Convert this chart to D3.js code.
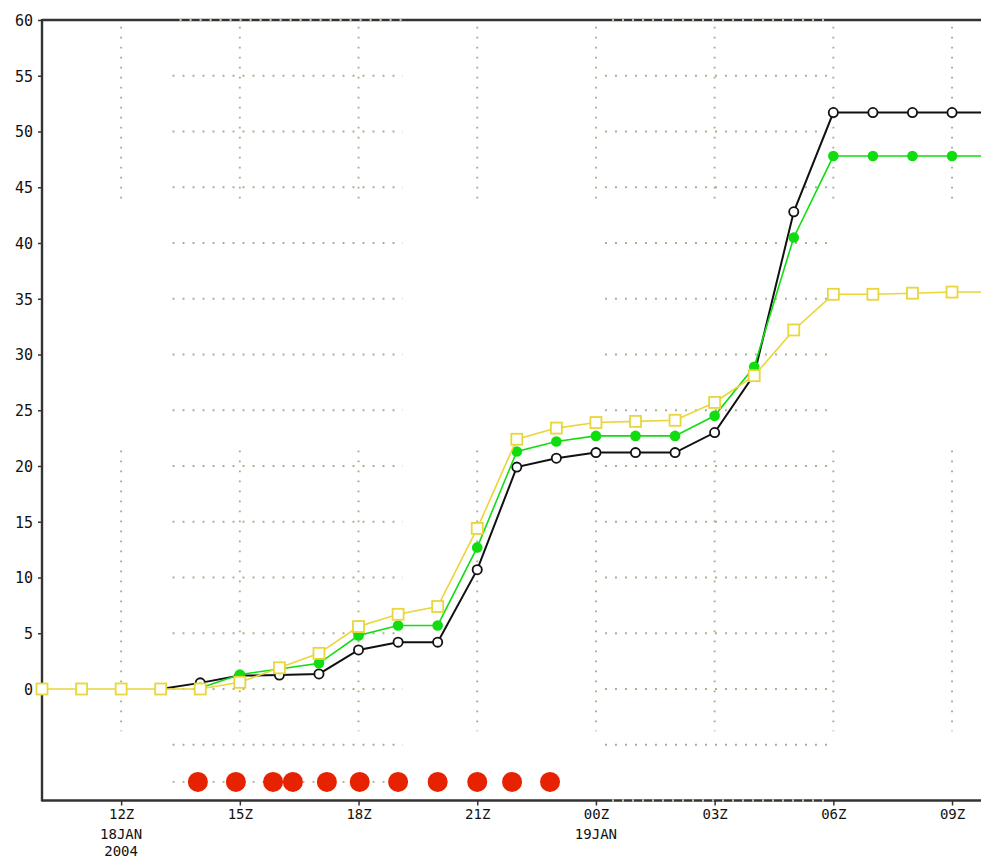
<!DOCTYPE html>
<html>
<head>
<meta charset="utf-8">
<script src="https://cdn.jsdelivr.net/npm/d3@7"></script>
<style>
  html, body { margin: 0; padding: 0; background: #fff; }
  svg { display: block; }
  .tick text { font-family: "DejaVu Sans Mono", monospace; font-size: 15px; fill: #111; }
  .xaxis .tick text { font-size: 14px; }
</style>
</head>
<body>
<svg id="chart" width="981" height="859"></svg>
<script>
// Hour of the run (10 = 10Z 18 Jan, 24 = 00Z 19 Jan, 34 = 10Z 19 Jan)
const hours = [10, 11, 12, 13, 14, 15, 16, 17, 18, 19, 20, 21, 22, 23, 24, 25, 26, 27, 28, 29, 30, 31, 32, 33, 34];

// Accumulated totals per hour (null = not yet started)
const blackSeries = [null, null, null, 0, 0.55, 1.2, 1.25, 1.35, 3.5, 4.2, 4.2, 10.7, 19.9, 20.7, 21.2, 21.2, 21.2, 23.0, 28.2, 42.8, 51.7, 51.7, 51.7, 51.7, 51.7];
const greenSeries = [null, null, null, null, 0.1, 1.3, 1.8, 2.3, 4.8, 5.7, 5.7, 12.7, 21.3, 22.2, 22.7, 22.7, 22.7, 24.5, 28.9, 40.5, 47.8, 47.8, 47.8, 47.8, 47.8];
const yellowSeries = [0, 0, 0, 0, 0, 0.6, 1.9, 3.2, 5.6, 6.7, 7.4, 14.4, 22.4, 23.4, 23.9, 24.0, 24.1, 25.7, 28.1, 32.2, 35.4, 35.4, 35.5, 35.6, 35.6];

// Observation times marked along the bottom strip
const obsTimes = [13.94, 14.9, 15.84, 16.34, 17.2, 18.03, 19.0, 20.0, 21.0, 21.88, 22.84];
const obsLevel = -8.33;

// Axis ticks
const xTickHours = [12, 15, 18, 21, 24, 27, 30, 33];
const xTickLabels = ["12Z", "15Z", "18Z", "21Z", "00Z", "03Z", "06Z", "09Z"];
const dateLabels = [{ hour: 12, lines: ["18JAN", "2004"] }, { hour: 24, lines: ["19JAN"] }];
const yTicks = [0, 5, 10, 15, 20, 25, 30, 35, 40, 45, 50, 55, 60];

// Dotted grid layout (in data units)
const gridRows = [55, 50, 45, 40, 35, 30, 25, 20, 15, 10, 5, 0, -5];
const gridRowSpans = [[13.3, 19.12], [24.23, 29.85]];
const gridColSpans = [[44.0, 59.4], [-3.8, 21.4]];
const obsRowSpan = [13.3, 19.12];

const svg = d3.select("#chart");
const x = d3.scaleLinear().domain([10, 34]).range([42, 991.6]);
const y = d3.scaleLinear().domain([-10, 60]).range([800.5, 20]);

const gridColor = "#a9ad8a";
const grid = svg.append("g").attr("stroke", gridColor).attr("stroke-width", 1.9)
  .attr("stroke-dasharray", "1.9 8.1").attr("fill", "none");

gridRows.forEach(v => {
  gridRowSpans.forEach(s => {
    grid.append("line").attr("x1", x(s[0])).attr("x2", x(s[1])).attr("y1", y(v)).attr("y2", y(v));
  });
});
grid.append("line").attr("x1", x(obsRowSpan[0])).attr("x2", x(obsRowSpan[1]))
  .attr("y1", y(obsLevel)).attr("y2", y(obsLevel));
xTickHours.forEach(h => {
  gridColSpans.forEach(s => {
    grid.append("line").attr("x1", x(h)).attr("x2", x(h)).attr("y1", y(s[1])).attr("y2", y(s[0]));
  });
});

// Axes
const axisColor = "#333";
const yAxis = svg.append("g").attr("transform", `translate(${x(10)},0)`)
  .call(d3.axisLeft(y).tickValues(yTicks).tickFormat(d3.format("d")).tickSize(4).tickPadding(5).tickSizeOuter(0));
yAxis.select(".domain").remove();
yAxis.selectAll(".tick line").attr("stroke", axisColor).attr("stroke-width", 1.5);
yAxis.selectAll(".tick text").attr("dy", "0.36em");

const xAxis = svg.append("g").attr("class", "xaxis").attr("transform", `translate(0,${y(-10)})`)
  .call(d3.axisBottom(x).tickValues(xTickHours).tickFormat((d, i) => xTickLabels[i]).tickSize(5).tickPadding(4).tickSizeOuter(0));
xAxis.select(".domain").remove();
xAxis.selectAll(".tick line").attr("stroke", axisColor).attr("stroke-width", 1.5);

dateLabels.forEach(d => {
  const t = svg.append("text").attr("x", x(d.hour)).attr("y", y(-10) + 38)
    .attr("text-anchor", "middle").attr("font-family", "DejaVu Sans Mono, monospace")
    .attr("font-size", 14).attr("fill", "#111");
  d.lines.forEach((s, i) => t.append("tspan").attr("x", x(d.hour)).attr("dy", i === 0 ? 0 : 17).text(s));
});

// Frame lines: left, top, bottom
const frame = svg.append("g").attr("stroke", axisColor).attr("stroke-width", 2.4);
frame.append("line").attr("x1", x(10)).attr("x2", x(10)).attr("y1", y(60) - 1).attr("y2", y(-10) + 1);
frame.append("line").attr("x1", x(10)).attr("x2", x(34)).attr("y1", y(60)).attr("y2", y(60));
frame.append("line").attr("x1", x(10)).attr("x2", x(34)).attr("y1", y(-10)).attr("y2", y(-10));

// Grid dots crossing the frame
const frameDots = svg.append("g").attr("stroke", "#c4c6a8").attr("stroke-width", 2.4).attr("stroke-dasharray", "2 8");
gridRowSpans.forEach(s => {
  frameDots.append("line").attr("x1", x(s[0]) + 7).attr("x2", x(s[1])).attr("y1", y(60)).attr("y2", y(60));
});
frameDots.append("line").attr("x1", x(gridRowSpans[1][0]) + 7).attr("x2", x(gridRowSpans[1][1]))
  .attr("y1", y(-10)).attr("y2", y(-10));

// Observation markers
svg.append("g").selectAll("circle").data(obsTimes).join("circle")
  .attr("cx", d => x(d)).attr("cy", y(obsLevel)).attr("r", 10).attr("fill", "#e62200");

// Series lines with markers
function seriesPoints(vals) {
  return hours.map((h, i) => ({ h, v: vals[i] })).filter(p => p.v !== null);
}
const line = d3.line().x(p => x(p.h)).y(p => y(p.v));

// black: open circles
const bp = seriesPoints(blackSeries);
svg.append("path").datum(bp).attr("d", line).attr("fill", "none").attr("stroke", "#111").attr("stroke-width", 2);
svg.append("g").selectAll("circle").data(bp).join("circle")
  .attr("cx", p => x(p.h)).attr("cy", p => y(p.v)).attr("r", 4.6)
  .attr("fill", "#fff").attr("stroke", "#111").attr("stroke-width", 1.8);

// green: filled circles
const gp = seriesPoints(greenSeries);
svg.append("path").datum(gp).attr("d", line).attr("fill", "none").attr("stroke", "#10dd10").attr("stroke-width", 1.6);
svg.append("g").selectAll("circle").data(gp).join("circle")
  .attr("cx", p => x(p.h)).attr("cy", p => y(p.v)).attr("r", 5.3).attr("fill", "#10dd10");

// yellow: open squares
const yp = seriesPoints(yellowSeries);
svg.append("path").datum(yp).attr("d", line).attr("fill", "none").attr("stroke", "#e8d63a").attr("stroke-width", 1.6);
svg.append("g").selectAll("rect").data(yp).join("rect")
  .attr("x", p => x(p.h) - 5.5).attr("y", p => y(p.v) - 5.5).attr("width", 11).attr("height", 11)
  .attr("fill", "#fff").attr("stroke", "#e8d63a").attr("stroke-width", 1.8);
</script>
</body>
</html>
